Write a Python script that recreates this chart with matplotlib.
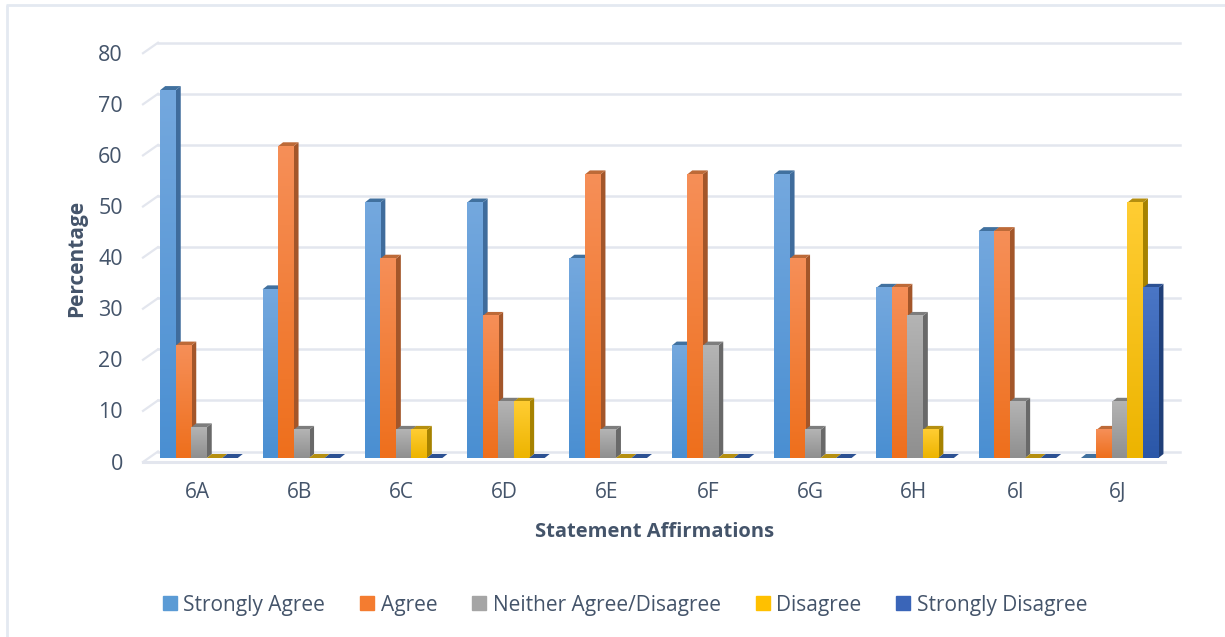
import matplotlib
matplotlib.use("Agg")
import matplotlib.pyplot as plt
import numpy as np
from matplotlib.lines import Line2D
from matplotlib.patches import Patch, Polygon
from matplotlib.colors import LinearSegmentedColormap
from matplotlib.transforms import Affine2D, IdentityTransform

plt.rcParams['font.family'] = ['Open Sans', 'DejaVu Sans']

statements = ['6A', '6B', '6C', '6D', '6E', '6F', '6G', '6H', '6I', '6J']
series_names = ['Strongly Agree', 'Agree', 'Neither Agree/Disagree', 'Disagree', 'Strongly Disagree']
strongly_agree = [72, 33, 50, 50, 39, 22, 55.5, 33.3, 44.4, 0]
agree = [22, 61, 39, 27.8, 55.5, 55.5, 39, 33.3, 44.4, 5.5]
neither = [6, 5.5, 5.5, 11, 5.5, 22, 5.5, 27.8, 11, 11]
disagree = [0, 0, 5.5, 11, 0, 0, 0, 5.5, 0, 50]
strongly_disagree = [0, 0, 0, 0, 0, 0, 0, 0, 0, 33.3]
y_ticks = [0, 10, 20, 30, 40, 50, 60, 70, 80]

# top of face, bottom of face, top cap, side wall
palette = [
    ('#74a8de', '#4a8fd2', '#41719f', '#3f6c9c'),
    ('#f68f58', '#ee6f1c', '#bd6a38', '#a3562a'),
    ('#b4b4b4', '#8f8f8f', '#7d7d7d', '#696969'),
    ('#ffcd33', '#edb400', '#b58f10', '#a68200'),
    ('#4a76c6', '#2b57a8', '#2c5193', '#203f78'),
]
legend_colors = ['#5b9bd5', '#f47c30', '#a5a5a5', '#ffc000', '#3a65b8']

text_color = '#44546a'
grid_color = '#e3e6ee'

FIG_W, FIG_H = 1225, 637
LEFT, RIGHT = 145, 1167
BASE_Y, PX_PER_UNIT = 458, 5.11
CENTER_0, STEP = 199, 102.3
BAR_W = 15.5 / STEP
DEPTH_X, DEPTH_Y = 5, 4
pixels = IdentityTransform()


def shift(ax, dx, dy):
    # data coordinates moved by a pixel offset, used for the fake 3d planes
    return ax.transData + Affine2D().translate(dx, dy)


fig = plt.figure(figsize=(FIG_W / 100, FIG_H / 100), dpi=100)
ax = fig.add_axes([LEFT / FIG_W, (FIG_H - BASE_Y) / FIG_H,
                   (RIGHT - LEFT) / FIG_W, PX_PER_UNIT * 80 / FIG_H])

x0 = (LEFT - CENTER_0) / STEP
x1 = (RIGHT - CENTER_0) / STEP
ax.set_xlim(x0, x1)
ax.set_ylim(0, 80)

# outer frame of the chart area
frame = dict(color='#e4e9f1', lw=2, transform=pixels, solid_capstyle='butt')
fig.add_artist(Line2D([7, 7], [0, FIG_H - 5], **frame))
fig.add_artist(Line2D([6, FIG_W], [FIG_H - 5, FIG_H - 5], **frame))

back = shift(ax, 13, 6.5)
front = shift(ax, -2, -4)

# back wall gridlines and the diagonals on the left wall
for v in y_ticks:
    ax.plot([x0, x1], [v, v], color=grid_color, lw=1.8, transform=back, clip_on=False, zorder=1)
    xa, ya = front.transform((x0, v))
    xb, yb = back.transform((x0, v))
    ax.plot([xa, xb], [ya, yb], color=grid_color, lw=1.6, transform=pixels, clip_on=False, zorder=1)

# floor edge
ax.plot([x0, x1], [0, 0], color=grid_color, lw=2.2, transform=front, clip_on=False, zorder=1)

all_series = [strongly_agree, agree, neither, disagree, strongly_disagree]
dx = DEPTH_X / STEP
dy = DEPTH_Y / PX_PER_UNIT
x = np.arange(len(statements))
grad = np.linspace(0, 1, 128).reshape(-1, 1)

for j, values in enumerate(all_series):
    top_c, bottom_c, cap_c, side_c = palette[j]
    cmap = LinearSegmentedColormap.from_list(series_names[j], [top_c, bottom_c])
    z = 3 + j
    bars = ax.bar(x + (j - 2) * BAR_W, values, BAR_W, color=bottom_c, zorder=z, clip_on=False)
    for rect, v in zip(bars, values):
        l = rect.get_x()
        r = l + BAR_W
        ax.add_patch(Polygon([(r, 0), (r + dx, dy), (r + dx, v + dy), (r, v)], closed=True,
                             fc=side_c, ec='none', zorder=z, clip_on=False))
        ax.add_patch(Polygon([(l, v), (l + dx, v + dy), (r + dx, v + dy), (r, v)], closed=True,
                             fc=cap_c, ec='none', zorder=z, clip_on=False))
        if v > 0:
            im = ax.imshow(grad, extent=(l, r, 0, v), cmap=cmap, aspect='auto', zorder=z + 0.5)
            im.set_clip_on(False)

ax.set_xlim(x0, x1)
ax.set_ylim(0, 80)
for s in ax.spines.values():
    s.set_visible(False)
ax.patch.set_alpha(0)

ax.set_xticks(x, statements)
ax.set_yticks(y_ticks)
ax.tick_params(axis='both', length=0, labelcolor=text_color)
ax.tick_params(axis='x', pad=17, labelsize=15)
ax.tick_params(axis='y', pad=16, labelsize=15.5)
for lab in ax.get_yticklabels():
    lab.set_transform(lab.get_transform() + Affine2D().translate(0, -3.5))
for lab in ax.get_xticklabels():
    lab.set_transform(lab.get_transform() + Affine2D().translate(-2, 0))

ax.set_xlabel('Statement Affirmations', fontsize=14.5, fontweight='bold', color=text_color)
ax.xaxis.set_label_coords((655 - LEFT) / (RIGHT - LEFT), -(532 - BASE_Y) / (PX_PER_UNIT * 80), transform=ax.transAxes)
ax.xaxis.label.set_va('center')
ax.set_ylabel('Percentage', fontsize=15, fontweight='bold', color=text_color)
ax.yaxis.set_label_coords((77 - LEFT) / (RIGHT - LEFT), (458 - 258) / (PX_PER_UNIT * 80), transform=ax.transAxes)
ax.yaxis.label.set_va('center')

handles = [Patch(color=c, label=n) for c, n in zip(legend_colors, series_names)]
fig.legend(handles=handles, ncol=5, frameon=False, loc='center', bbox_to_anchor=(625 / FIG_W, (FIG_H - 605) / FIG_H),
           fontsize=15, labelcolor=text_color, handlelength=0.68, handleheight=0.62,
           handletextpad=0.3, columnspacing=1.68)

fig.savefig('out.png', dpi=100, facecolor='white')
